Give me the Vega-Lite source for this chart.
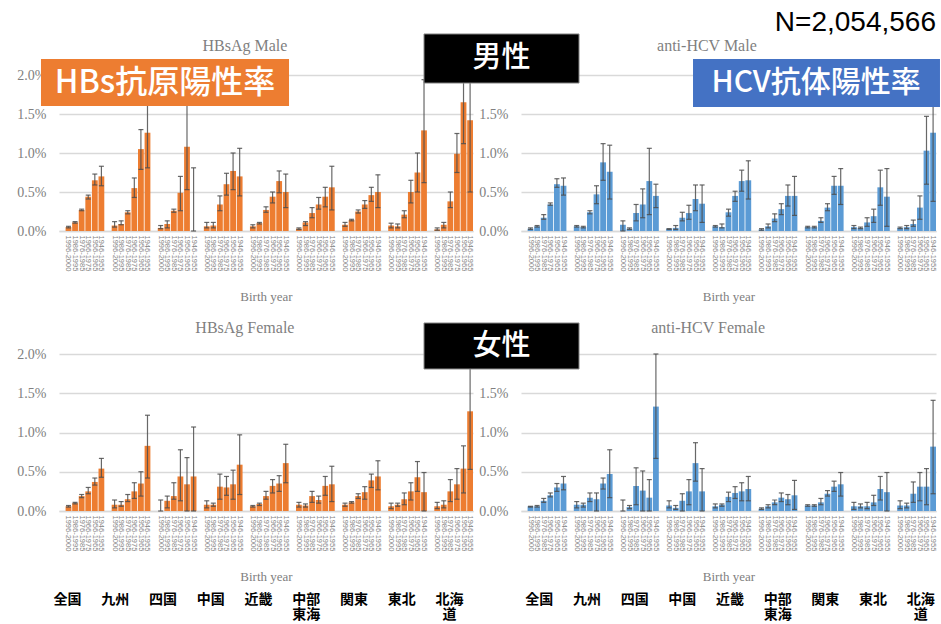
{
  "$schema": "https://vega.github.io/schema/vega-lite/v6.json",
  "background": "white",
  "padding": {"left": 16, "top": 8, "right": 0, "bottom": 0},
  "autosize": {"type": "pad"},
  "config": {
    "view": {"stroke": null},
    "axisY": {"tickCount": 4, "labelExpr": "format(datum.value, '.1f') + '%'", "grid": true, "gridColor": "#d9d9d9", "gridWidth": 1.5, "domain": false, "ticks": false, "labelFont": "Liberation Serif", "labelFontSize": 14, "labelColor": "#808080", "labelPadding": 13, "labelOverlap": false}
  },
  "columns": 2,
  "spacing": {"row": 123, "column": 48},
  "bounds": "flush",
  "datasets": {
    "hbm": [
      {"k":"全国|1996-2000","v":0.05,"lo":0.04,"hi":0.06},{"k":"全国|1986-1995","v":0.11,"lo":0.10,"hi":0.12},{"k":"全国|1976-1985","v":0.27,"lo":0.26,"hi":0.28},{"k":"全国|1966-1975","v":0.44,"lo":0.41,"hi":0.46},{"k":"全国|1956-1965","v":0.65,"lo":0.59,"hi":0.73},{"k":"全国|1946-1955","v":0.70,"lo":0.58,"hi":0.83},
      {"k":"九州|1996-2000","v":0.07,"lo":0.05,"hi":0.12},{"k":"九州|1986-1995","v":0.09,"lo":0.08,"hi":0.13},{"k":"九州|1976-1985","v":0.24,"lo":0.22,"hi":0.26},{"k":"九州|1966-1975","v":0.55,"lo":0.43,"hi":0.68},{"k":"九州|1956-1965","v":1.05,"lo":0.79,"hi":1.30},{"k":"九州|1946-1955","v":1.26,"lo":0.81,"hi":1.75},
      {"k":"四国|1996-2000","v":0.04,"lo":0.03,"hi":0.07},{"k":"四国|1986-1995","v":0.09,"lo":0.04,"hi":0.13},{"k":"四国|1976-1985","v":0.26,"lo":0.24,"hi":0.28},{"k":"四国|1966-1975","v":0.49,"lo":0.26,"hi":0.70},{"k":"四国|1956-1965","v":1.08,"lo":0.53,"hi":1.65},{"k":"四国|1946-1955","v":0.0,"lo":0.0,"hi":0.81},
      {"k":"中国|1996-2000","v":0.06,"lo":0.04,"hi":0.11},{"k":"中国|1986-1995","v":0.07,"lo":0.04,"hi":0.11},{"k":"中国|1976-1985","v":0.34,"lo":0.26,"hi":0.45},{"k":"中国|1966-1975","v":0.60,"lo":0.46,"hi":0.74},{"k":"中国|1956-1965","v":0.77,"lo":0.53,"hi":1.00},{"k":"中国|1946-1955","v":0.70,"lo":0.45,"hi":1.06},
      {"k":"近畿|1996-2000","v":0.06,"lo":0.04,"hi":0.08},{"k":"近畿|1986-1995","v":0.10,"lo":0.09,"hi":0.11},{"k":"近畿|1976-1985","v":0.27,"lo":0.24,"hi":0.31},{"k":"近畿|1966-1975","v":0.44,"lo":0.36,"hi":0.50},{"k":"近畿|1956-1965","v":0.64,"lo":0.49,"hi":0.77},{"k":"近畿|1946-1955","v":0.50,"lo":0.30,"hi":0.73},
      {"k":"中部東海|1996-2000","v":0.03,"lo":0.02,"hi":0.04},{"k":"中部東海|1986-1995","v":0.11,"lo":0.07,"hi":0.12},{"k":"中部東海|1976-1985","v":0.23,"lo":0.17,"hi":0.30},{"k":"中部東海|1966-1975","v":0.34,"lo":0.28,"hi":0.43},{"k":"中部東海|1956-1965","v":0.44,"lo":0.31,"hi":0.56},{"k":"中部東海|1946-1955","v":0.56,"lo":0.27,"hi":0.83},
      {"k":"関東|1996-2000","v":0.08,"lo":0.06,"hi":0.11},{"k":"関東|1986-1995","v":0.14,"lo":0.13,"hi":0.15},{"k":"関東|1976-1985","v":0.25,"lo":0.23,"hi":0.27},{"k":"関東|1966-1975","v":0.34,"lo":0.29,"hi":0.39},{"k":"関東|1956-1965","v":0.46,"lo":0.38,"hi":0.56},{"k":"関東|1946-1955","v":0.50,"lo":0.30,"hi":0.72},
      {"k":"東北|1996-2000","v":0.07,"lo":0.04,"hi":0.10},{"k":"東北|1986-1995","v":0.06,"lo":0.04,"hi":0.09},{"k":"東北|1976-1985","v":0.21,"lo":0.17,"hi":0.26},{"k":"東北|1966-1975","v":0.50,"lo":0.36,"hi":0.65},{"k":"東北|1956-1965","v":0.75,"lo":0.50,"hi":1.00},{"k":"東北|1946-1955","v":1.29,"lo":0.62,"hi":1.94},
      {"k":"北海道|1996-2000","v":0.02,"lo":0.01,"hi":0.04},{"k":"北海道|1986-1995","v":0.08,"lo":0.04,"hi":0.11},{"k":"北海道|1976-1985","v":0.38,"lo":0.30,"hi":0.50},{"k":"北海道|1966-1975","v":0.99,"lo":0.75,"hi":1.25},{"k":"北海道|1956-1965","v":1.65,"lo":1.12,"hi":2.10},{"k":"北海道|1946-1955","v":1.42,"lo":0.50,"hi":2.30}
    ],
    "hcm": [
      {"k":"全国|1996-2000","v":0.03,"lo":0.02,"hi":0.04},{"k":"全国|1986-1995","v":0.06,"lo":0.05,"hi":0.07},{"k":"全国|1976-1985","v":0.17,"lo":0.15,"hi":0.21},{"k":"全国|1966-1975","v":0.34,"lo":0.33,"hi":0.36},{"k":"全国|1956-1965","v":0.60,"lo":0.56,"hi":0.67},{"k":"全国|1946-1955","v":0.58,"lo":0.46,"hi":0.68},
      {"k":"九州|1996-2000","v":0.06,"lo":0.05,"hi":0.07},{"k":"九州|1986-1995","v":0.05,"lo":0.04,"hi":0.06},{"k":"九州|1976-1985","v":0.24,"lo":0.22,"hi":0.26},{"k":"九州|1966-1975","v":0.47,"lo":0.35,"hi":0.58},{"k":"九州|1956-1965","v":0.88,"lo":0.65,"hi":1.12},{"k":"九州|1946-1955","v":0.76,"lo":0.41,"hi":1.10},
      {"k":"四国|1996-2000","v":0.08,"lo":0.0,"hi":0.13},{"k":"四国|1986-1995","v":0.03,"lo":0.02,"hi":0.04},{"k":"四国|1976-1985","v":0.23,"lo":0.13,"hi":0.34},{"k":"四国|1966-1975","v":0.34,"lo":0.17,"hi":0.54},{"k":"四国|1956-1965","v":0.64,"lo":0.21,"hi":1.06},{"k":"四国|1946-1955","v":0.45,"lo":0.30,"hi":0.60},
      {"k":"中国|1996-2000","v":0.03,"lo":0.02,"hi":0.03},{"k":"中国|1986-1995","v":0.04,"lo":0.02,"hi":0.07},{"k":"中国|1976-1985","v":0.17,"lo":0.13,"hi":0.24},{"k":"中国|1966-1975","v":0.23,"lo":0.15,"hi":0.33},{"k":"中国|1956-1965","v":0.41,"lo":0.26,"hi":0.59},{"k":"中国|1946-1955","v":0.35,"lo":0.11,"hi":0.59},
      {"k":"近畿|1996-2000","v":0.06,"lo":0.05,"hi":0.07},{"k":"近畿|1986-1995","v":0.05,"lo":0.04,"hi":0.09},{"k":"近畿|1976-1985","v":0.24,"lo":0.19,"hi":0.28},{"k":"近畿|1966-1975","v":0.45,"lo":0.38,"hi":0.51},{"k":"近畿|1956-1965","v":0.64,"lo":0.51,"hi":0.78},{"k":"近畿|1946-1955","v":0.65,"lo":0.41,"hi":0.90},
      {"k":"中部東海|1996-2000","v":0.02,"lo":0.01,"hi":0.03},{"k":"中部東海|1986-1995","v":0.06,"lo":0.04,"hi":0.09},{"k":"中部東海|1976-1985","v":0.16,"lo":0.12,"hi":0.22},{"k":"中部東海|1966-1975","v":0.28,"lo":0.21,"hi":0.35},{"k":"中部東海|1956-1965","v":0.45,"lo":0.32,"hi":0.59},{"k":"中部東海|1946-1955","v":0.45,"lo":0.20,"hi":0.70},
      {"k":"関東|1996-2000","v":0.05,"lo":0.04,"hi":0.06},{"k":"関東|1986-1995","v":0.05,"lo":0.04,"hi":0.06},{"k":"関東|1976-1985","v":0.13,"lo":0.11,"hi":0.17},{"k":"関東|1966-1975","v":0.30,"lo":0.26,"hi":0.35},{"k":"関東|1956-1965","v":0.58,"lo":0.47,"hi":0.70},{"k":"関東|1946-1955","v":0.58,"lo":0.34,"hi":0.80},
      {"k":"東北|1996-2000","v":0.05,"lo":0.03,"hi":0.07},{"k":"東北|1986-1995","v":0.04,"lo":0.03,"hi":0.05},{"k":"東北|1976-1985","v":0.11,"lo":0.06,"hi":0.17},{"k":"東北|1966-1975","v":0.19,"lo":0.11,"hi":0.28},{"k":"東北|1956-1965","v":0.56,"lo":0.33,"hi":0.78},{"k":"東北|1946-1955","v":0.44,"lo":0.06,"hi":0.80},
      {"k":"北海道|1996-2000","v":0.04,"lo":0.03,"hi":0.05},{"k":"北海道|1986-1995","v":0.05,"lo":0.03,"hi":0.07},{"k":"北海道|1976-1985","v":0.09,"lo":0.06,"hi":0.14},{"k":"北海道|1966-1975","v":0.30,"lo":0.15,"hi":0.45},{"k":"北海道|1956-1965","v":1.03,"lo":0.60,"hi":1.47},{"k":"北海道|1946-1955","v":1.26,"lo":0.38,"hi":1.70}
    ],
    "hbf": [
      {"k":"全国|1996-2000","v":0.06,"lo":0.05,"hi":0.07},{"k":"全国|1986-1995","v":0.10,"lo":0.09,"hi":0.11},{"k":"全国|1976-1985","v":0.19,"lo":0.17,"hi":0.21},{"k":"全国|1966-1975","v":0.25,"lo":0.22,"hi":0.30},{"k":"全国|1956-1965","v":0.37,"lo":0.33,"hi":0.42},{"k":"全国|1946-1955","v":0.54,"lo":0.43,"hi":0.67},
      {"k":"九州|1996-2000","v":0.08,"lo":0.04,"hi":0.14},{"k":"九州|1986-1995","v":0.08,"lo":0.06,"hi":0.12},{"k":"九州|1976-1985","v":0.15,"lo":0.12,"hi":0.21},{"k":"九州|1966-1975","v":0.25,"lo":0.16,"hi":0.36},{"k":"九州|1956-1965","v":0.35,"lo":0.19,"hi":0.50},{"k":"九州|1946-1955","v":0.83,"lo":0.42,"hi":1.22},
      {"k":"四国|1996-2000","v":0.0,"lo":0.0,"hi":0.14},{"k":"四国|1986-1995","v":0.13,"lo":0.04,"hi":0.19},{"k":"四国|1976-1985","v":0.19,"lo":0.15,"hi":0.36},{"k":"四国|1966-1975","v":0.44,"lo":0.13,"hi":0.78},{"k":"四国|1956-1965","v":0.34,"lo":0.0,"hi":0.68},{"k":"四国|1946-1955","v":0.44,"lo":0.0,"hi":1.07},
      {"k":"中国|1996-2000","v":0.08,"lo":0.04,"hi":0.13},{"k":"中国|1986-1995","v":0.08,"lo":0.06,"hi":0.10},{"k":"中国|1976-1985","v":0.31,"lo":0.15,"hi":0.47},{"k":"中国|1966-1975","v":0.30,"lo":0.20,"hi":0.44},{"k":"中国|1956-1965","v":0.34,"lo":0.15,"hi":0.52},{"k":"中国|1946-1955","v":0.59,"lo":0.21,"hi":0.97},
      {"k":"近畿|1996-2000","v":0.06,"lo":0.05,"hi":0.07},{"k":"近畿|1986-1995","v":0.09,"lo":0.07,"hi":0.10},{"k":"近畿|1976-1985","v":0.19,"lo":0.15,"hi":0.25},{"k":"近畿|1966-1975","v":0.32,"lo":0.23,"hi":0.40},{"k":"近畿|1956-1965","v":0.35,"lo":0.25,"hi":0.45},{"k":"近畿|1946-1955","v":0.61,"lo":0.36,"hi":0.85},
      {"k":"中部東海|1996-2000","v":0.08,"lo":0.05,"hi":0.11},{"k":"中部東海|1986-1995","v":0.07,"lo":0.05,"hi":0.09},{"k":"中部東海|1976-1985","v":0.19,"lo":0.11,"hi":0.25},{"k":"中部東海|1966-1975","v":0.14,"lo":0.10,"hi":0.19},{"k":"中部東海|1956-1965","v":0.32,"lo":0.20,"hi":0.44},{"k":"中部東海|1946-1955","v":0.34,"lo":0.12,"hi":0.57},
      {"k":"関東|1996-2000","v":0.08,"lo":0.06,"hi":0.10},{"k":"関東|1986-1995","v":0.11,"lo":0.10,"hi":0.12},{"k":"関東|1976-1985","v":0.19,"lo":0.16,"hi":0.22},{"k":"関東|1966-1975","v":0.24,"lo":0.15,"hi":0.31},{"k":"関東|1956-1965","v":0.39,"lo":0.30,"hi":0.47},{"k":"関東|1946-1955","v":0.44,"lo":0.27,"hi":0.64},
      {"k":"東北|1996-2000","v":0.06,"lo":0.03,"hi":0.10},{"k":"東北|1986-1995","v":0.08,"lo":0.06,"hi":0.10},{"k":"東北|1976-1985","v":0.15,"lo":0.08,"hi":0.23},{"k":"東北|1966-1975","v":0.25,"lo":0.14,"hi":0.36},{"k":"東北|1956-1965","v":0.43,"lo":0.25,"hi":0.63},{"k":"東北|1946-1955","v":0.24,"lo":0.0,"hi":0.49},
      {"k":"北海道|1996-2000","v":0.06,"lo":0.03,"hi":0.11},{"k":"北海道|1986-1995","v":0.08,"lo":0.04,"hi":0.13},{"k":"北海道|1976-1985","v":0.25,"lo":0.12,"hi":0.40},{"k":"北海道|1966-1975","v":0.34,"lo":0.15,"hi":0.54},{"k":"北海道|1956-1965","v":0.54,"lo":0.23,"hi":0.83},{"k":"北海道|1946-1955","v":1.27,"lo":0.53,"hi":2.20}
    ],
    "hcf": [
      {"k":"全国|1996-2000","v":0.06,"lo":0.05,"hi":0.06},{"k":"全国|1986-1995","v":0.06,"lo":0.05,"hi":0.07},{"k":"全国|1976-1985","v":0.13,"lo":0.11,"hi":0.16},{"k":"全国|1966-1975","v":0.20,"lo":0.18,"hi":0.23},{"k":"全国|1956-1965","v":0.30,"lo":0.25,"hi":0.35},{"k":"全国|1946-1955","v":0.35,"lo":0.27,"hi":0.44},
      {"k":"九州|1996-2000","v":0.08,"lo":0.04,"hi":0.12},{"k":"九州|1986-1995","v":0.08,"lo":0.05,"hi":0.10},{"k":"九州|1976-1985","v":0.17,"lo":0.12,"hi":0.23},{"k":"九州|1966-1975","v":0.15,"lo":0.0,"hi":0.23},{"k":"九州|1956-1965","v":0.35,"lo":0.28,"hi":0.42},{"k":"九州|1946-1955","v":0.47,"lo":0.17,"hi":0.78},
      {"k":"四国|1996-2000","v":0.0,"lo":0.0,"hi":0.14},{"k":"四国|1986-1995","v":0.05,"lo":0.03,"hi":0.07},{"k":"四国|1976-1985","v":0.32,"lo":0.08,"hi":0.55},{"k":"四国|1966-1975","v":0.26,"lo":0.0,"hi":0.51},{"k":"四国|1956-1965","v":0.17,"lo":0.0,"hi":0.40},{"k":"四国|1946-1955","v":1.33,"lo":0.67,"hi":2.00},
      {"k":"中国|1996-2000","v":0.07,"lo":0.04,"hi":0.13},{"k":"中国|1986-1995","v":0.04,"lo":0.02,"hi":0.07},{"k":"中国|1976-1985","v":0.13,"lo":0.0,"hi":0.22},{"k":"中国|1966-1975","v":0.25,"lo":0.08,"hi":0.40},{"k":"中国|1956-1965","v":0.61,"lo":0.38,"hi":0.87},{"k":"中国|1946-1955","v":0.25,"lo":0.0,"hi":0.54},
      {"k":"近畿|1996-2000","v":0.06,"lo":0.04,"hi":0.09},{"k":"近畿|1986-1995","v":0.08,"lo":0.06,"hi":0.09},{"k":"近畿|1976-1985","v":0.18,"lo":0.12,"hi":0.24},{"k":"近畿|1966-1975","v":0.23,"lo":0.16,"hi":0.31},{"k":"近畿|1956-1965","v":0.25,"lo":0.13,"hi":0.36},{"k":"近畿|1946-1955","v":0.28,"lo":0.13,"hi":0.44},
      {"k":"中部東海|1996-2000","v":0.03,"lo":0.02,"hi":0.04},{"k":"中部東海|1986-1995","v":0.06,"lo":0.04,"hi":0.08},{"k":"中部東海|1976-1985","v":0.11,"lo":0.08,"hi":0.14},{"k":"中部東海|1966-1975","v":0.17,"lo":0.12,"hi":0.23},{"k":"中部東海|1956-1965","v":0.15,"lo":0.08,"hi":0.21},{"k":"中部東海|1946-1955","v":0.20,"lo":0.02,"hi":0.39},
      {"k":"関東|1996-2000","v":0.07,"lo":0.06,"hi":0.08},{"k":"関東|1986-1995","v":0.07,"lo":0.06,"hi":0.08},{"k":"関東|1976-1985","v":0.11,"lo":0.08,"hi":0.16},{"k":"関東|1966-1975","v":0.22,"lo":0.19,"hi":0.26},{"k":"関東|1956-1965","v":0.31,"lo":0.25,"hi":0.38},{"k":"関東|1946-1955","v":0.34,"lo":0.19,"hi":0.49},
      {"k":"東北|1996-2000","v":0.06,"lo":0.02,"hi":0.11},{"k":"東北|1986-1995","v":0.06,"lo":0.04,"hi":0.09},{"k":"東北|1976-1985","v":0.06,"lo":0.03,"hi":0.11},{"k":"東北|1966-1975","v":0.11,"lo":0.07,"hi":0.20},{"k":"東北|1956-1965","v":0.28,"lo":0.14,"hi":0.44},{"k":"東北|1946-1955","v":0.24,"lo":0.0,"hi":0.49},
      {"k":"北海道|1996-2000","v":0.07,"lo":0.03,"hi":0.13},{"k":"北海道|1986-1995","v":0.07,"lo":0.04,"hi":0.10},{"k":"北海道|1976-1985","v":0.22,"lo":0.11,"hi":0.37},{"k":"北海道|1966-1975","v":0.31,"lo":0.13,"hi":0.49},{"k":"北海道|1956-1965","v":0.31,"lo":0.08,"hi":0.54},{"k":"北海道|1946-1955","v":0.82,"lo":0.22,"hi":1.41}
    ],
    "regions": [{"r":"全国"},{"r":"九州"},{"r":"四国"},{"r":"中国"},{"r":"近畿"},{"r":"中部東海"},{"r":"関東"},{"r":"東北"},{"r":"北海道"}]
  },
  "concat": [
    {
      "width": 414, "height": 156,
      "layer": [
        {"data": {"name": "hbm"}, "layer": [
          {"mark": {"type": "bar", "color": "#ED7D31"},
           "encoding": {
             "x": {"field": "k", "type": "nominal", "title": "Birth year",
               "scale": {"domain": ["全国|gap","全国|1996-2000","全国|1986-1995","全国|1976-1985","全国|1966-1975","全国|1956-1965","全国|1946-1955","九州|gap","九州|1996-2000","九州|1986-1995","九州|1976-1985","九州|1966-1975","九州|1956-1965","九州|1946-1955","四国|gap","四国|1996-2000","四国|1986-1995","四国|1976-1985","四国|1966-1975","四国|1956-1965","四国|1946-1955","中国|gap","中国|1996-2000","中国|1986-1995","中国|1976-1985","中国|1966-1975","中国|1956-1965","中国|1946-1955","近畿|gap","近畿|1996-2000","近畿|1986-1995","近畿|1976-1985","近畿|1966-1975","近畿|1956-1965","近畿|1946-1955","中部東海|gap","中部東海|1996-2000","中部東海|1986-1995","中部東海|1976-1985","中部東海|1966-1975","中部東海|1956-1965","中部東海|1946-1955","関東|gap","関東|1996-2000","関東|1986-1995","関東|1976-1985","関東|1966-1975","関東|1956-1965","関東|1946-1955","東北|gap","東北|1996-2000","東北|1986-1995","東北|1976-1985","東北|1966-1975","東北|1956-1965","東北|1946-1955","北海道|gap","北海道|1996-2000","北海道|1986-1995","北海道|1976-1985","北海道|1966-1975","北海道|1956-1965","北海道|1946-1955"], "paddingInner": 0.12, "paddingOuter": 0},
               "axis": {"titleFont": "Liberation Serif", "titleFontSize": 13, "titleFontWeight": "normal", "titleColor": "#808080", "titlePadding": 20, "labelAngle": 90, "labelFontSize": 7.5, "labelFont": "Liberation Sans", "labelColor": "#858585", "labelExpr": "indexof(datum.label, 'gap') >= 0 ? '' : slice(datum.label, indexof(datum.label, '|') + 1)", "labelOverlap": false, "labelPadding": 4, "ticks": false, "domainColor": "#d9d9d9", "domainWidth": 1.5, "grid": false}},
             "y": {"field": "v", "type": "quantitative", "title": null, "scale": {"domain": [0, 2], "nice": false}}
           }},
          {"mark": {"type": "rule", "color": "#4d4d4d", "strokeWidth": 1.2, "opacity": 0.85},
           "encoding": {"x": {"field": "k", "type": "nominal"}, "y": {"field": "lo", "type": "quantitative", "title": null}, "y2": {"field": "hi"}}},
          {"mark": {"type": "tick", "color": "#4d4d4d", "size": 5, "thickness": 1.2, "opacity": 0.85},
           "encoding": {"x": {"field": "k", "type": "nominal"}, "y": {"field": "hi", "type": "quantitative", "title": null}}},
          {"mark": {"type": "tick", "color": "#4d4d4d", "size": 5, "thickness": 1.2, "opacity": 0.85},
           "encoding": {"x": {"field": "k", "type": "nominal"}, "y": {"field": "lo", "type": "quantitative", "title": null}}}
        ]},
        {"data": {"values": [{}]}, "layer": [
          {"mark": {"type": "text", "text": "HBsAg Male", "color": "#7f7f7f", "font": "Liberation Serif", "fontSize": 16, "align": "center", "baseline": "middle"},
           "encoding": {"x": {"datum": 0.449, "type": "quantitative", "scale": {"domain": [0, 1]}, "axis": null}, "y": {"datum": 2.372, "type": "quantitative", "title": null}}},
          {"mark": {"type": "rect", "color": "#ED7D31"},
           "encoding": {"x": {"datum": -0.0435, "type": "quantitative", "axis": null}, "x2": {"datum": 0.5556}, "y": {"datum": 2.205, "type": "quantitative", "title": null}, "y2": {"datum": 1.603}}},
          {"mark": {"type": "text", "text": "HBs抗原陽性率", "color": "white", "font": "Noto Sans CJK JP", "fontSize": 32, "fontWeight": 500, "align": "center", "baseline": "middle"},
           "encoding": {"x": {"datum": 0.256, "type": "quantitative", "axis": null}, "y": {"datum": 1.897, "type": "quantitative", "title": null}}}
        ]}
      ],
      "resolve": {"scale": {"x": "independent"}, "axis": {"x": "independent"}}
    },
    {
      "width": 415, "height": 156,
      "layer": [
        {"data": {"name": "hcm"}, "layer": [
          {"mark": {"type": "bar", "color": "#5B9BD5"},
           "encoding": {
             "x": {"field": "k", "type": "nominal", "title": "Birth year",
               "scale": {"domain": ["全国|gap","全国|1996-2000","全国|1986-1995","全国|1976-1985","全国|1966-1975","全国|1956-1965","全国|1946-1955","九州|gap","九州|1996-2000","九州|1986-1995","九州|1976-1985","九州|1966-1975","九州|1956-1965","九州|1946-1955","四国|gap","四国|1996-2000","四国|1986-1995","四国|1976-1985","四国|1966-1975","四国|1956-1965","四国|1946-1955","中国|gap","中国|1996-2000","中国|1986-1995","中国|1976-1985","中国|1966-1975","中国|1956-1965","中国|1946-1955","近畿|gap","近畿|1996-2000","近畿|1986-1995","近畿|1976-1985","近畿|1966-1975","近畿|1956-1965","近畿|1946-1955","中部東海|gap","中部東海|1996-2000","中部東海|1986-1995","中部東海|1976-1985","中部東海|1966-1975","中部東海|1956-1965","中部東海|1946-1955","関東|gap","関東|1996-2000","関東|1986-1995","関東|1976-1985","関東|1966-1975","関東|1956-1965","関東|1946-1955","東北|gap","東北|1996-2000","東北|1986-1995","東北|1976-1985","東北|1966-1975","東北|1956-1965","東北|1946-1955","北海道|gap","北海道|1996-2000","北海道|1986-1995","北海道|1976-1985","北海道|1966-1975","北海道|1956-1965","北海道|1946-1955"], "paddingInner": 0.12, "paddingOuter": 0},
               "axis": {"titleFont": "Liberation Serif", "titleFontSize": 13, "titleFontWeight": "normal", "titleColor": "#808080", "titlePadding": 20, "labelAngle": 90, "labelFontSize": 7.5, "labelFont": "Liberation Sans", "labelColor": "#858585", "labelExpr": "indexof(datum.label, 'gap') >= 0 ? '' : slice(datum.label, indexof(datum.label, '|') + 1)", "labelOverlap": false, "labelPadding": 4, "ticks": false, "domainColor": "#d9d9d9", "domainWidth": 1.5, "grid": false}},
             "y": {"field": "v", "type": "quantitative", "title": null, "scale": {"domain": [0, 2], "nice": false}}
           }},
          {"mark": {"type": "rule", "color": "#4d4d4d", "strokeWidth": 1.2, "opacity": 0.85},
           "encoding": {"x": {"field": "k", "type": "nominal"}, "y": {"field": "lo", "type": "quantitative", "title": null}, "y2": {"field": "hi"}}},
          {"mark": {"type": "tick", "color": "#4d4d4d", "size": 5, "thickness": 1.2, "opacity": 0.85},
           "encoding": {"x": {"field": "k", "type": "nominal"}, "y": {"field": "hi", "type": "quantitative", "title": null}}},
          {"mark": {"type": "tick", "color": "#4d4d4d", "size": 5, "thickness": 1.2, "opacity": 0.85},
           "encoding": {"x": {"field": "k", "type": "nominal"}, "y": {"field": "lo", "type": "quantitative", "title": null}}}
        ]},
        {"data": {"values": [{}]}, "layer": [
          {"mark": {"type": "text", "text": "anti-HCV Male", "color": "#7f7f7f", "font": "Liberation Serif", "fontSize": 16, "align": "center", "baseline": "middle"},
           "encoding": {"x": {"datum": 0.448, "type": "quantitative", "scale": {"domain": [0, 1]}, "axis": null}, "y": {"datum": 2.372, "type": "quantitative", "title": null}}},
          {"mark": {"type": "rect", "color": "#000000", "stroke": "#888888", "strokeWidth": 1},
           "encoding": {"x": {"datum": -0.2337, "type": "quantitative", "axis": null}, "x2": {"datum": 0.1398}, "y": {"datum": 2.526, "type": "quantitative", "title": null}, "y2": {"datum": 1.897}}},
          {"mark": {"type": "text", "text": "男性", "color": "white", "font": "Noto Sans CJK JP", "fontSize": 29, "fontWeight": 500, "align": "center", "baseline": "middle"},
           "encoding": {"x": {"datum": -0.047, "type": "quantitative", "axis": null}, "y": {"datum": 2.218, "type": "quantitative", "title": null}}},
          {"mark": {"type": "rect", "color": "#4472C4"},
           "encoding": {"x": {"datum": 0.4145, "type": "quantitative", "axis": null}, "x2": {"datum": 1.0096}, "y": {"datum": 2.205, "type": "quantitative", "title": null}, "y2": {"datum": 1.59}}},
          {"mark": {"type": "text", "text": "HCV抗体陽性率", "color": "white", "font": "Noto Sans CJK JP", "fontSize": 30, "fontWeight": 500, "align": "center", "baseline": "middle"},
           "encoding": {"x": {"datum": 0.711, "type": "quantitative", "axis": null}, "y": {"datum": 1.897, "type": "quantitative", "title": null}}},
          {"mark": {"type": "text", "text": "N=2,054,566", "color": "black", "font": "Liberation Sans", "fontSize": 28, "align": "right", "baseline": "middle"},
           "encoding": {"x": {"datum": 1.0, "type": "quantitative", "axis": null}, "y": {"datum": 2.667, "type": "quantitative", "title": null}}}
        ]}
      ],
      "resolve": {"scale": {"x": "independent"}, "axis": {"x": "independent"}}
    },
    {
      "width": 414, "height": 157,
      "layer": [
        {"data": {"name": "hbf"}, "layer": [
          {"mark": {"type": "bar", "color": "#ED7D31"},
           "encoding": {
             "x": {"field": "k", "type": "nominal", "title": "Birth year",
               "scale": {"domain": ["全国|gap","全国|1996-2000","全国|1986-1995","全国|1976-1985","全国|1966-1975","全国|1956-1965","全国|1946-1955","九州|gap","九州|1996-2000","九州|1986-1995","九州|1976-1985","九州|1966-1975","九州|1956-1965","九州|1946-1955","四国|gap","四国|1996-2000","四国|1986-1995","四国|1976-1985","四国|1966-1975","四国|1956-1965","四国|1946-1955","中国|gap","中国|1996-2000","中国|1986-1995","中国|1976-1985","中国|1966-1975","中国|1956-1965","中国|1946-1955","近畿|gap","近畿|1996-2000","近畿|1986-1995","近畿|1976-1985","近畿|1966-1975","近畿|1956-1965","近畿|1946-1955","中部東海|gap","中部東海|1996-2000","中部東海|1986-1995","中部東海|1976-1985","中部東海|1966-1975","中部東海|1956-1965","中部東海|1946-1955","関東|gap","関東|1996-2000","関東|1986-1995","関東|1976-1985","関東|1966-1975","関東|1956-1965","関東|1946-1955","東北|gap","東北|1996-2000","東北|1986-1995","東北|1976-1985","東北|1966-1975","東北|1956-1965","東北|1946-1955","北海道|gap","北海道|1996-2000","北海道|1986-1995","北海道|1976-1985","北海道|1966-1975","北海道|1956-1965","北海道|1946-1955"], "paddingInner": 0.12, "paddingOuter": 0},
               "axis": {"titleFont": "Liberation Serif", "titleFontSize": 13, "titleFontWeight": "normal", "titleColor": "#808080", "titlePadding": 20, "labelAngle": 90, "labelFontSize": 7.5, "labelFont": "Liberation Sans", "labelColor": "#858585", "labelExpr": "indexof(datum.label, 'gap') >= 0 ? '' : slice(datum.label, indexof(datum.label, '|') + 1)", "labelOverlap": false, "labelPadding": 4, "ticks": false, "domainColor": "#d9d9d9", "domainWidth": 1.5, "grid": false}},
             "y": {"field": "v", "type": "quantitative", "title": null, "scale": {"domain": [0, 2], "nice": false}}
           }},
          {"mark": {"type": "rule", "color": "#4d4d4d", "strokeWidth": 1.2, "opacity": 0.85},
           "encoding": {"x": {"field": "k", "type": "nominal"}, "y": {"field": "lo", "type": "quantitative", "title": null}, "y2": {"field": "hi"}}},
          {"mark": {"type": "tick", "color": "#4d4d4d", "size": 5, "thickness": 1.2, "opacity": 0.85},
           "encoding": {"x": {"field": "k", "type": "nominal"}, "y": {"field": "hi", "type": "quantitative", "title": null}}},
          {"mark": {"type": "tick", "color": "#4d4d4d", "size": 5, "thickness": 1.2, "opacity": 0.85},
           "encoding": {"x": {"field": "k", "type": "nominal"}, "y": {"field": "lo", "type": "quantitative", "title": null}}}
        ]},
        {"data": {"name": "regions"}, "mark": {"type": "point", "opacity": 0},
         "encoding": {
           "x": {"field": "r", "type": "nominal", "scale": {"domain": ["全国","九州","四国","中国","近畿","中部東海","関東","東北","北海道"], "range": [-16, 414], "paddingInner": 0, "paddingOuter": 0},
             "axis": {"orient": "bottom", "offset": 79, "title": null, "ticks": false, "domain": false, "grid": false, "labelAngle": 0, "labelPadding": 2, "labelFont": "Noto Sans CJK JP", "labelFontSize": 14, "labelFontWeight": "bold", "labelColor": "#000000", "labelBaseline": "top", "labelLineHeight": 15, "labelOverlap": false, "labelExpr": "datum.label == '中部東海' ? ['中部', '東海'] : datum.label == '北海道' ? ['北海', '道'] : datum.label"}},
           "y": {"datum": 0, "type": "quantitative", "title": null}
         }},
        {"data": {"values": [{}]}, "layer": [
          {"mark": {"type": "text", "text": "HBsAg Female", "color": "#7f7f7f", "font": "Liberation Serif", "fontSize": 16, "align": "center", "baseline": "middle"},
           "encoding": {"x": {"datum": 0.449, "type": "quantitative", "scale": {"domain": [0, 1]}, "axis": null}, "y": {"datum": 2.331, "type": "quantitative", "title": null}}}
        ]}
      ],
      "resolve": {"scale": {"x": "independent"}, "axis": {"x": "independent"}}
    },
    {
      "width": 415, "height": 157,
      "layer": [
        {"data": {"name": "hcf"}, "layer": [
          {"mark": {"type": "bar", "color": "#5B9BD5"},
           "encoding": {
             "x": {"field": "k", "type": "nominal", "title": "Birth year",
               "scale": {"domain": ["全国|gap","全国|1996-2000","全国|1986-1995","全国|1976-1985","全国|1966-1975","全国|1956-1965","全国|1946-1955","九州|gap","九州|1996-2000","九州|1986-1995","九州|1976-1985","九州|1966-1975","九州|1956-1965","九州|1946-1955","四国|gap","四国|1996-2000","四国|1986-1995","四国|1976-1985","四国|1966-1975","四国|1956-1965","四国|1946-1955","中国|gap","中国|1996-2000","中国|1986-1995","中国|1976-1985","中国|1966-1975","中国|1956-1965","中国|1946-1955","近畿|gap","近畿|1996-2000","近畿|1986-1995","近畿|1976-1985","近畿|1966-1975","近畿|1956-1965","近畿|1946-1955","中部東海|gap","中部東海|1996-2000","中部東海|1986-1995","中部東海|1976-1985","中部東海|1966-1975","中部東海|1956-1965","中部東海|1946-1955","関東|gap","関東|1996-2000","関東|1986-1995","関東|1976-1985","関東|1966-1975","関東|1956-1965","関東|1946-1955","東北|gap","東北|1996-2000","東北|1986-1995","東北|1976-1985","東北|1966-1975","東北|1956-1965","東北|1946-1955","北海道|gap","北海道|1996-2000","北海道|1986-1995","北海道|1976-1985","北海道|1966-1975","北海道|1956-1965","北海道|1946-1955"], "paddingInner": 0.12, "paddingOuter": 0},
               "axis": {"titleFont": "Liberation Serif", "titleFontSize": 13, "titleFontWeight": "normal", "titleColor": "#808080", "titlePadding": 20, "labelAngle": 90, "labelFontSize": 7.5, "labelFont": "Liberation Sans", "labelColor": "#858585", "labelExpr": "indexof(datum.label, 'gap') >= 0 ? '' : slice(datum.label, indexof(datum.label, '|') + 1)", "labelOverlap": false, "labelPadding": 4, "ticks": false, "domainColor": "#d9d9d9", "domainWidth": 1.5, "grid": false}},
             "y": {"field": "v", "type": "quantitative", "title": null, "scale": {"domain": [0, 2], "nice": false}}
           }},
          {"mark": {"type": "rule", "color": "#4d4d4d", "strokeWidth": 1.2, "opacity": 0.85},
           "encoding": {"x": {"field": "k", "type": "nominal"}, "y": {"field": "lo", "type": "quantitative", "title": null}, "y2": {"field": "hi"}}},
          {"mark": {"type": "tick", "color": "#4d4d4d", "size": 5, "thickness": 1.2, "opacity": 0.85},
           "encoding": {"x": {"field": "k", "type": "nominal"}, "y": {"field": "hi", "type": "quantitative", "title": null}}},
          {"mark": {"type": "tick", "color": "#4d4d4d", "size": 5, "thickness": 1.2, "opacity": 0.85},
           "encoding": {"x": {"field": "k", "type": "nominal"}, "y": {"field": "lo", "type": "quantitative", "title": null}}}
        ]},
        {"data": {"name": "regions"}, "mark": {"type": "point", "opacity": 0},
         "encoding": {
           "x": {"field": "r", "type": "nominal", "scale": {"domain": ["全国","九州","四国","中国","近畿","中部東海","関東","東北","北海道"], "range": [-6, 423], "paddingInner": 0, "paddingOuter": 0},
             "axis": {"orient": "bottom", "offset": 79, "title": null, "ticks": false, "domain": false, "grid": false, "labelAngle": 0, "labelPadding": 2, "labelFont": "Noto Sans CJK JP", "labelFontSize": 14, "labelFontWeight": "bold", "labelColor": "#000000", "labelBaseline": "top", "labelLineHeight": 15, "labelOverlap": false, "labelExpr": "datum.label == '中部東海' ? ['中部', '東海'] : datum.label == '北海道' ? ['北海', '道'] : datum.label"}},
           "y": {"datum": 0, "type": "quantitative", "title": null}
         }},
        {"data": {"values": [{}]}, "layer": [
          {"mark": {"type": "text", "text": "anti-HCV Female", "color": "#7f7f7f", "font": "Liberation Serif", "fontSize": 16, "align": "center", "baseline": "middle"},
           "encoding": {"x": {"datum": 0.451, "type": "quantitative", "scale": {"domain": [0, 1]}, "axis": null}, "y": {"datum": 2.331, "type": "quantitative", "title": null}}},
          {"mark": {"type": "rect", "color": "#000000", "stroke": "#888888", "strokeWidth": 1},
           "encoding": {"x": {"datum": -0.2337, "type": "quantitative", "axis": null}, "x2": {"datum": 0.1398}, "y": {"datum": 2.395, "type": "quantitative", "title": null}, "y2": {"datum": 1.809}}},
          {"mark": {"type": "text", "text": "女性", "color": "white", "font": "Noto Sans CJK JP", "fontSize": 29, "fontWeight": 500, "align": "center", "baseline": "middle"},
           "encoding": {"x": {"datum": -0.047, "type": "quantitative", "axis": null}, "y": {"datum": 2.102, "type": "quantitative", "title": null}}}
        ]}
      ],
      "resolve": {"scale": {"x": "independent"}, "axis": {"x": "independent"}}
    }
  ]
}
